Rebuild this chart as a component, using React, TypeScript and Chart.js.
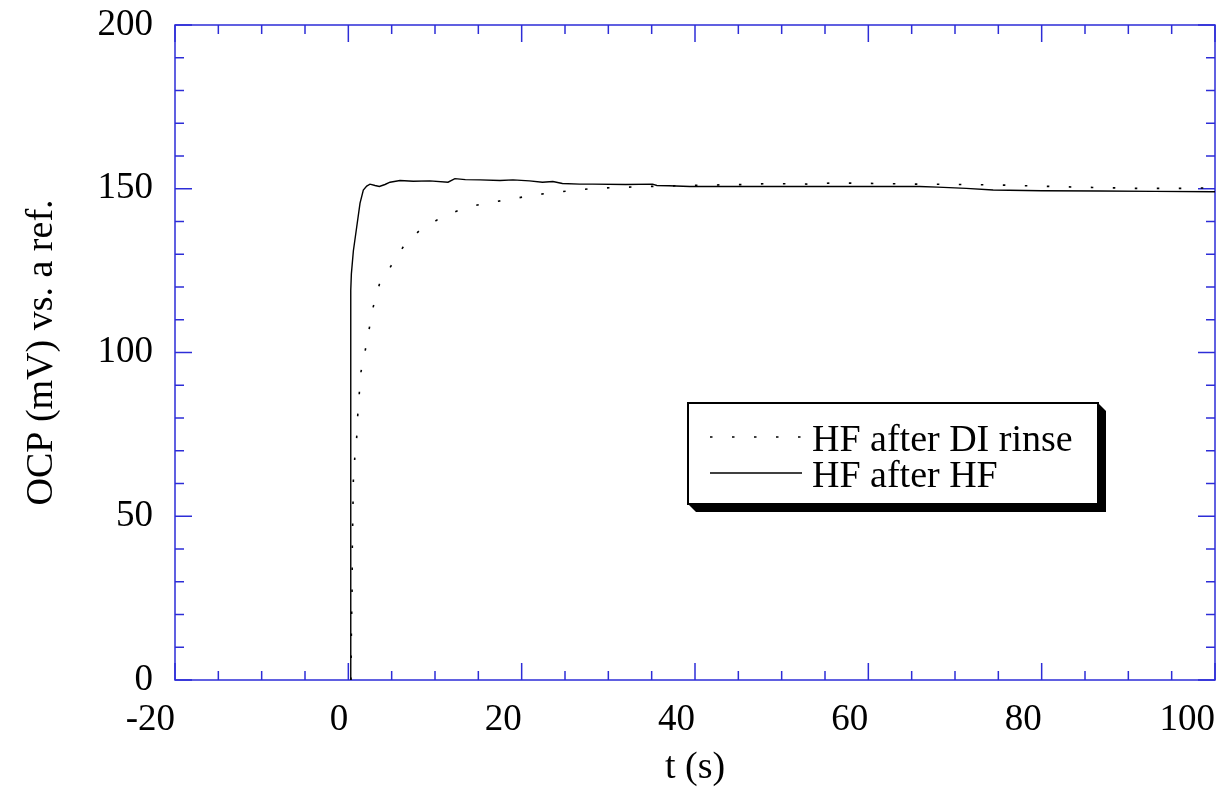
import React, { useEffect, useRef } from "react";
import { Chart, registerables } from "chart.js";

Chart.register(...registerables);

// ---- data ----
const seriesLabels = ["HF after DI rinse", "HF after HF"];

const tDI = [0.3, 0.35, 0.43, 0.46, 0.54, 0.58, 0.74, 0.97, 1.08, 1.27, 1.46, 2.0, 2.42, 2.88, 3.58, 5.04, 6.34, 8.27, 10.9, 13.4, 15.85, 18.3, 20.8, 23.4, 25.95, 28.3, 31, 36, 41.1, 46, 48.4, 53.6, 55.9, 61, 65.9, 70.9, 75.9, 81.1, 85.9, 91.2, 96, 100];
const ocpDI = [0, 14.3, 27.5, 40.7, 54, 61, 67.7, 74.3, 80.6, 87.7, 94.1, 101.3, 107.4, 114, 120.8, 126.9, 132.3, 137.4, 141.5, 144.1, 145.6, 146.6, 147.8, 148.8, 149.5, 150.1, 150.4, 150.8, 151.1, 151.3, 151.6, 151.4, 151.8, 151.6, 151.4, 151.3, 151.1, 150.7, 150.4, 150.1, 150.1, 150.3];

const tHF = [0.28, 0.28, 0.28, 0.35, 0.58, 0.97, 1.35, 1.73, 2.12, 2.5, 3.08, 3.58, 4.23, 4.81, 5.96, 7.5, 9.4, 11.5, 12.3, 13.5, 15.2, 17.5, 19.0, 20.9, 22.4, 23.6, 24.7, 26.7, 28.2, 32, 35.1, 35.6, 37, 39.4, 45, 55, 65.9, 68, 71.3, 74.4, 80, 86.7, 93, 100];
const ocpHF = [0, 98, 119, 124, 131, 138.4, 145.6, 149.6, 150.8, 151.4, 151, 150.7, 151.3, 152, 152.5, 152.3, 152.4, 152, 153.1, 152.8, 152.7, 152.5, 152.7, 152.4, 152, 152.2, 151.6, 151.4, 151.4, 151.3, 151.4, 151, 150.9, 150.7, 150.7, 150.7, 150.7, 150.5, 150.1, 149.6, 149.4, 149.3, 149.2, 149.1];

const xTitle = "t (s)";
const yTitle = "OCP (mV) vs. a ref.";
const X_MIN = -20, X_MAX = 100, X_MAJOR = 20, X_MINOR = 5;
const Y_MIN = 0, Y_MAX = 200, Y_MAJOR = 50, Y_MINOR = 10;

const AXIS_COLOR = "rgb(45,45,215)";
const FONT = "Liberation Serif";

const toPoints = (xs: number[], ys: number[]) => xs.map((x, i) => ({ x, y: ys[i] }));

const framePlugin = {
  id: "frameTicks",
  beforeDatasetsDraw(chart: any) {
    const { ctx, chartArea, scales } = chart;
    const { left, right, top, bottom } = chartArea;
    const x = scales.x, y = scales.y;
    ctx.save();
    ctx.strokeStyle = AXIS_COLOR;
    ctx.lineWidth = 1.5;
    ctx.strokeRect(left, top, right - left, bottom - top);
    const seg = (a: number, b: number, c: number, d: number) => {
      ctx.beginPath(); ctx.moveTo(a, b); ctx.lineTo(c, d); ctx.stroke();
    };
    for (let v = X_MIN; v <= X_MAX + 1e-9; v += X_MINOR) {
      const px = x.getPixelForValue(v);
      const len = Math.abs(v % X_MAJOR) < 1e-9 ? 17 : 9;
      seg(px, bottom, px, bottom - len);
      seg(px, top, px, top + len);
    }
    for (let v = Y_MIN; v <= Y_MAX + 1e-9; v += Y_MINOR) {
      const py = y.getPixelForValue(v);
      const len = Math.abs(v % Y_MAJOR) < 1e-9 ? 17 : 9;
      seg(left, py, left + len, py);
      seg(right, py, right - len, py);
    }
    ctx.restore();
  },
  afterDraw(chart: any) {
    const { ctx, chartArea } = chart;
    const { left, right, top, bottom } = chartArea;
    ctx.save();
    ctx.fillStyle = "#000";
    ctx.font = `38px "${FONT}"`;
    ctx.textAlign = "center";
    ctx.textBaseline = "middle";
    ctx.fillText(xTitle, (left + right) / 2, 768);
    ctx.translate(42, (top + bottom) / 2);
    ctx.rotate(-Math.PI / 2);
    ctx.fillText(yTitle, 0, 0);
    ctx.restore();

    // legend box
    const bx = 688, by = 403, bw = 410, bh = 101, sh = 8;
    ctx.save();
    ctx.fillStyle = "#000";
    ctx.beginPath();
    ctx.moveTo(bx + bw, by);
    ctx.lineTo(bx + bw + sh, by + sh);
    ctx.lineTo(bx + bw + sh, by + bh + sh);
    ctx.lineTo(bx + sh, by + bh + sh);
    ctx.lineTo(bx, by + bh);
    ctx.closePath();
    ctx.fill();
    ctx.fillStyle = "#fff";
    ctx.fillRect(bx, by, bw, bh);
    ctx.strokeStyle = "#000";
    ctx.lineWidth = 2;
    ctx.strokeRect(bx, by, bw, bh);
    const rows = [437, 473];
    chart.data.datasets.forEach((ds: any, i: number) => {
      const ry = rows[i];
      ctx.strokeStyle = ds.borderColor;
      ctx.lineWidth = ds.borderWidth;
      ctx.setLineDash(ds.borderDash || []);
      ctx.beginPath();
      ctx.moveTo(710, ry);
      ctx.lineTo(802, ry);
      ctx.stroke();
      ctx.setLineDash([]);
      ctx.fillStyle = "#000";
      ctx.font = `38px "${FONT}"`;
      ctx.textAlign = "left";
      ctx.textBaseline = "middle";
      ctx.fillText(ds.label, 812, ry + 4);
    });
    ctx.restore();
  },
};

export default function App() {
  const ref = useRef<HTMLCanvasElement>(null);
  useEffect(() => {
    if (!ref.current) return;
    const chart = new Chart(ref.current, {
      type: "scatter",
      data: {
        datasets: [
          {
            label: seriesLabels[0],
            data: toPoints(tDI, ocpDI),
            showLine: true,
            borderColor: "#000",
            borderWidth: 1.6,
            borderDash: [2.5, 19.5],
            pointRadius: 0,
            tension: 0,
          },
          {
            label: seriesLabels[1],
            data: toPoints(tHF, ocpHF),
            showLine: true,
            borderColor: "#000",
            borderWidth: 1.4,
            pointRadius: 0,
            tension: 0,
          },
        ],
      },
      options: {
        animation: false,
        responsive: false,
        devicePixelRatio: 1,
        layout: { padding: { top: 25, right: 6, left: 0, bottom: 0 } },
        plugins: { legend: { display: false }, tooltip: { enabled: false } },
        scales: {
          x: {
            type: "linear",
            min: X_MIN,
            max: X_MAX,
            grid: { display: false, drawTicks: false },
            border: { display: false },
            ticks: {
              stepSize: X_MAJOR,
              align: "end",
              padding: 18,
              color: "#000",
              font: { family: FONT, size: 37 },
            },
            afterFit: (s: any) => {
              s.height = 131;
              s.paddingLeft = 0; s.paddingRight = 0; s.paddingTop = 0; s.paddingBottom = 0;
            },
          },
          y: {
            type: "linear",
            min: Y_MIN,
            max: Y_MAX,
            grid: { display: false, drawTicks: false },
            border: { display: false },
            ticks: {
              stepSize: Y_MAJOR,
              padding: 22,
              color: "#000",
              font: { family: FONT, size: 37 },
            },
            afterFit: (s: any) => {
              s.width = 175;
              s.paddingLeft = 0; s.paddingRight = 0; s.paddingTop = 0; s.paddingBottom = 0;
            },
          },
        },
      },
      plugins: [framePlugin],
    });
    return () => chart.destroy();
  }, []);
  return (
    <div style={{ position: "absolute", left: 0, top: 0, width: 1221, height: 811, background: "#fff" }}>
      <canvas ref={ref} width={1221} height={811} style={{ display: "block" }} />
    </div>
  );
}
